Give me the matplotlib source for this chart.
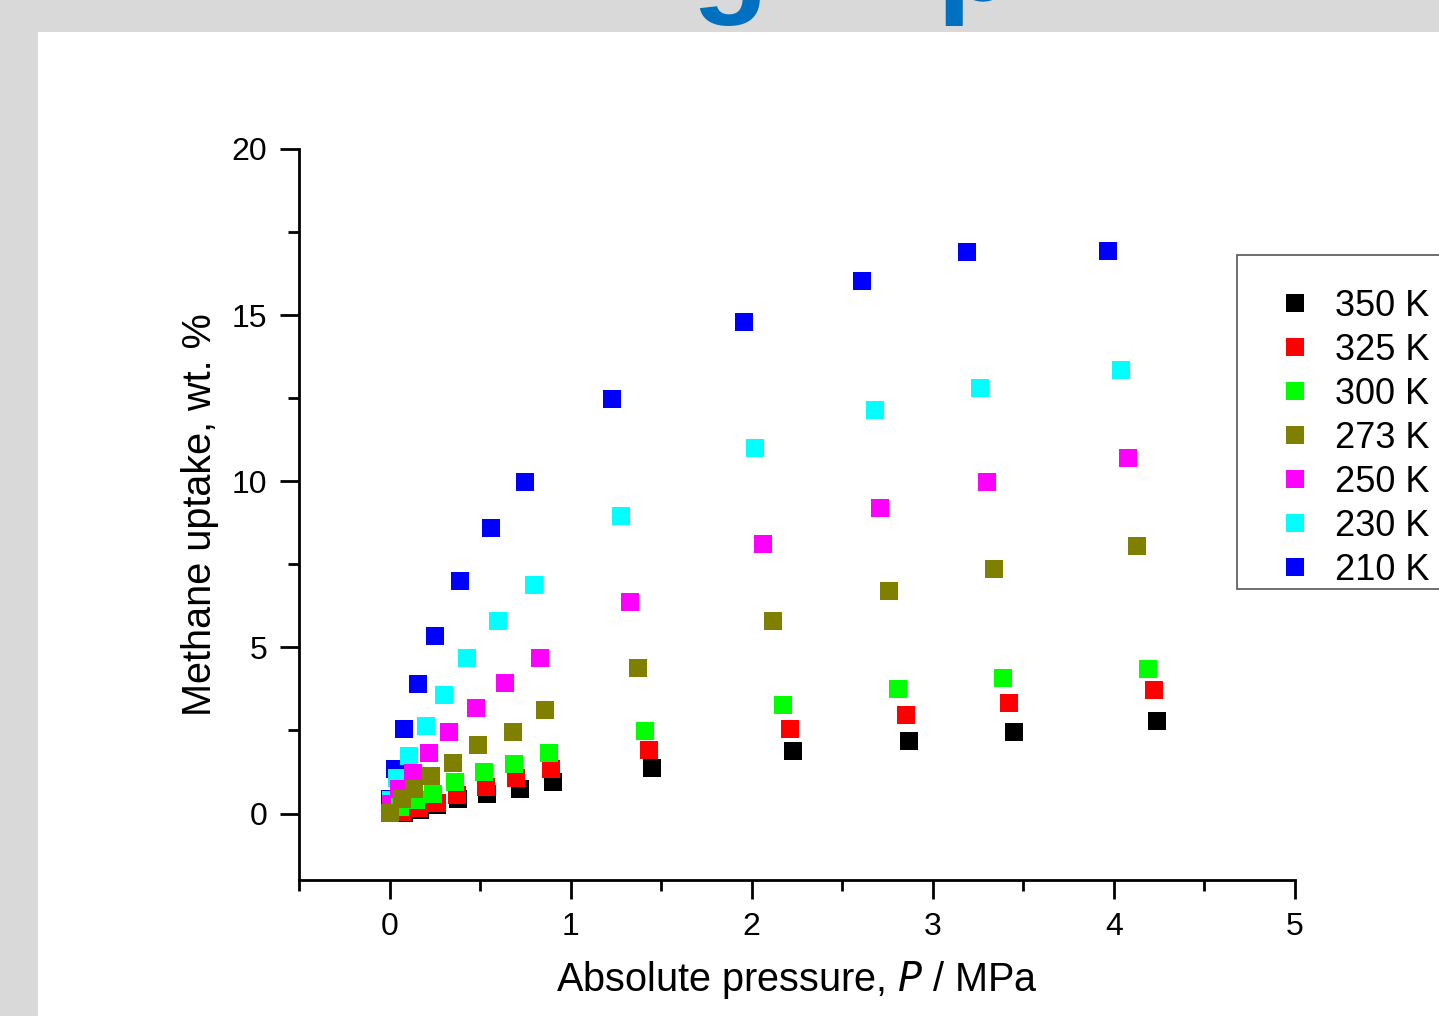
import matplotlib
matplotlib.use("Agg")
import matplotlib.pyplot as plt
from matplotlib.patches import Rectangle
from matplotlib.ticker import MultipleLocator

plt.rcParams["font.family"] = ["Liberation Sans", "DejaVu Sans"]

# isotherms: pressure (MPa) and methane uptake (wt. %)
p_350 = [0.08, 0.17, 0.26, 0.38, 0.54, 0.72, 0.90, 1.45, 2.23, 2.87, 3.45, 4.24]
w_350 = [0.03, 0.12, 0.27, 0.45, 0.60, 0.75, 0.94, 1.36, 1.87, 2.17, 2.44, 2.78]

p_325 = [0.07, 0.16, 0.26, 0.37, 0.53, 0.70, 0.89, 1.43, 2.21, 2.85, 3.42, 4.22]
w_325 = [0.06, 0.18, 0.33, 0.57, 0.81, 1.06, 1.33, 1.90, 2.53, 2.96, 3.32, 3.71]

p_300 = [0.06, 0.145, 0.24, 0.36, 0.52, 0.69, 0.88, 1.41, 2.17, 2.81, 3.39, 4.19]
w_300 = [0.20, 0.42, 0.60, 0.94, 1.24, 1.48, 1.81, 2.47, 3.26, 3.74, 4.07, 4.34]

p_273 = [0.0, 0.07, 0.135, 0.23, 0.35, 0.49, 0.68, 0.86, 1.37, 2.12, 2.76, 3.34, 4.13]
w_273 = [0.03, 0.45, 0.75, 1.12, 1.51, 2.05, 2.44, 3.11, 4.37, 5.79, 6.70, 7.36, 8.05]

p_250 = [0.01, 0.05, 0.13, 0.22, 0.33, 0.48, 0.64, 0.83, 1.33, 2.06, 2.71, 3.30, 4.08]
w_250 = [0.30, 0.75, 1.21, 1.81, 2.44, 3.17, 3.92, 4.68, 6.37, 8.11, 9.20, 9.98, 10.71]

p_230 = [0.01, 0.04, 0.11, 0.20, 0.30, 0.43, 0.60, 0.80, 1.28, 2.02, 2.68, 3.26, 4.04]
w_230 = [0.40, 1.06, 1.72, 2.62, 3.56, 4.68, 5.79, 6.88, 8.96, 11.01, 12.16, 12.82, 13.36]

p_210 = [0.0, 0.03, 0.08, 0.157, 0.25, 0.39, 0.56, 0.75, 1.23, 1.96, 2.61, 3.19, 3.97]
w_210 = [0.45, 1.33, 2.53, 3.89, 5.34, 7.00, 8.60, 9.98, 12.49, 14.78, 16.02, 16.89, 16.92]

series = [
    ("350 K", p_350, w_350, "#000000"),
    ("325 K", p_325, w_325, "#ff0000"),
    ("300 K", p_300, w_300, "#00ff00"),
    ("273 K", p_273, w_273, "#808000"),
    ("250 K", p_250, w_250, "#ff00ff"),
    ("230 K", p_230, w_230, "#00ffff"),
    ("210 K", p_210, w_210, "#0000ff"),
]
# stacking at low pressure: cold isotherms underneath, then 350 -> 273 on top
draw_order = [6, 5, 4, 0, 1, 2, 3]

W, H = 1439, 1016
fig = plt.figure(figsize=(W / 100, H / 100), dpi=100, facecolor="#d9d9d9")

# white slide panel, behind everything
fig.patches.append(Rectangle((38 / W, 0), 1 - 38 / W, 1 - 32 / H,
                             transform=fig.transFigure, facecolor="white",
                             edgecolor="none", zorder=-10))
# cut-off slide title (only descenders visible)
fig.text(730 / W, 1.0, "g", color="#0070c0", fontsize=90, fontweight="bold",
         ha="center", va="baseline")
fig.text(975 / W, 1.0, "p", color="#0070c0", fontsize=90, fontweight="bold",
         ha="center", va="baseline")

ax = fig.add_axes([299 / W, 1 - 880 / H, (1295 - 299) / W, (880 - 149) / H])
ax.set_facecolor("none")
ax.set_zorder(5)

lines = {}
for i in draw_order:
    label, p, w, c = series[i]
    lines[i], = ax.plot(p, w, "s", color=c, markersize=12.5, markeredgewidth=0,
                        label=label, clip_on=False)

ax.set_xlim(-0.5, 5)
ax.set_ylim(-2, 20)
ax.xaxis.set_major_locator(MultipleLocator(1))
ax.xaxis.set_minor_locator(MultipleLocator(0.5))
ax.yaxis.set_major_locator(MultipleLocator(5))
ax.yaxis.set_minor_locator(MultipleLocator(2.5))

for s in ("top", "right"):
    ax.spines[s].set_visible(False)
for s in ("left", "bottom"):
    ax.spines[s].set_linewidth(2)

ax.tick_params(which="major", direction="out", length=14, width=2, labelsize=23, pad=9)
ax.tick_params(which="minor", direction="out", length=8, width=2)

ax.set_xlabel("Absolute pressure, $\\mathit{P}$ / MPa", fontsize=28.5, labelpad=12)
ax.set_ylabel("Methane uptake, wt. %", fontsize=28.5, labelpad=9)

# legend box (drawn separately: the reference frame is taller on top)
fig.patches.append(Rectangle((1237 / W, 1 - 589 / H), (1450 - 1237) / W, (589 - 255) / H,
                             transform=fig.transFigure, facecolor="white",
                             edgecolor="#555555", linewidth=1.2, zorder=1))

leg = fig.legend([lines[i] for i in range(len(series))], [s[0] for s in series],
                 loc="upper left", bbox_to_anchor=(1277 / W, 1 - 288.5 / H),
                 fontsize=26, frameon=False, markerscale=1.0,
                 handlelength=1.0, handletextpad=0.61, borderpad=0,
                 labelspacing=0.25, borderaxespad=0)
leg.set_zorder(6)

fig.savefig("out.png", dpi=100, facecolor=fig.get_facecolor())
